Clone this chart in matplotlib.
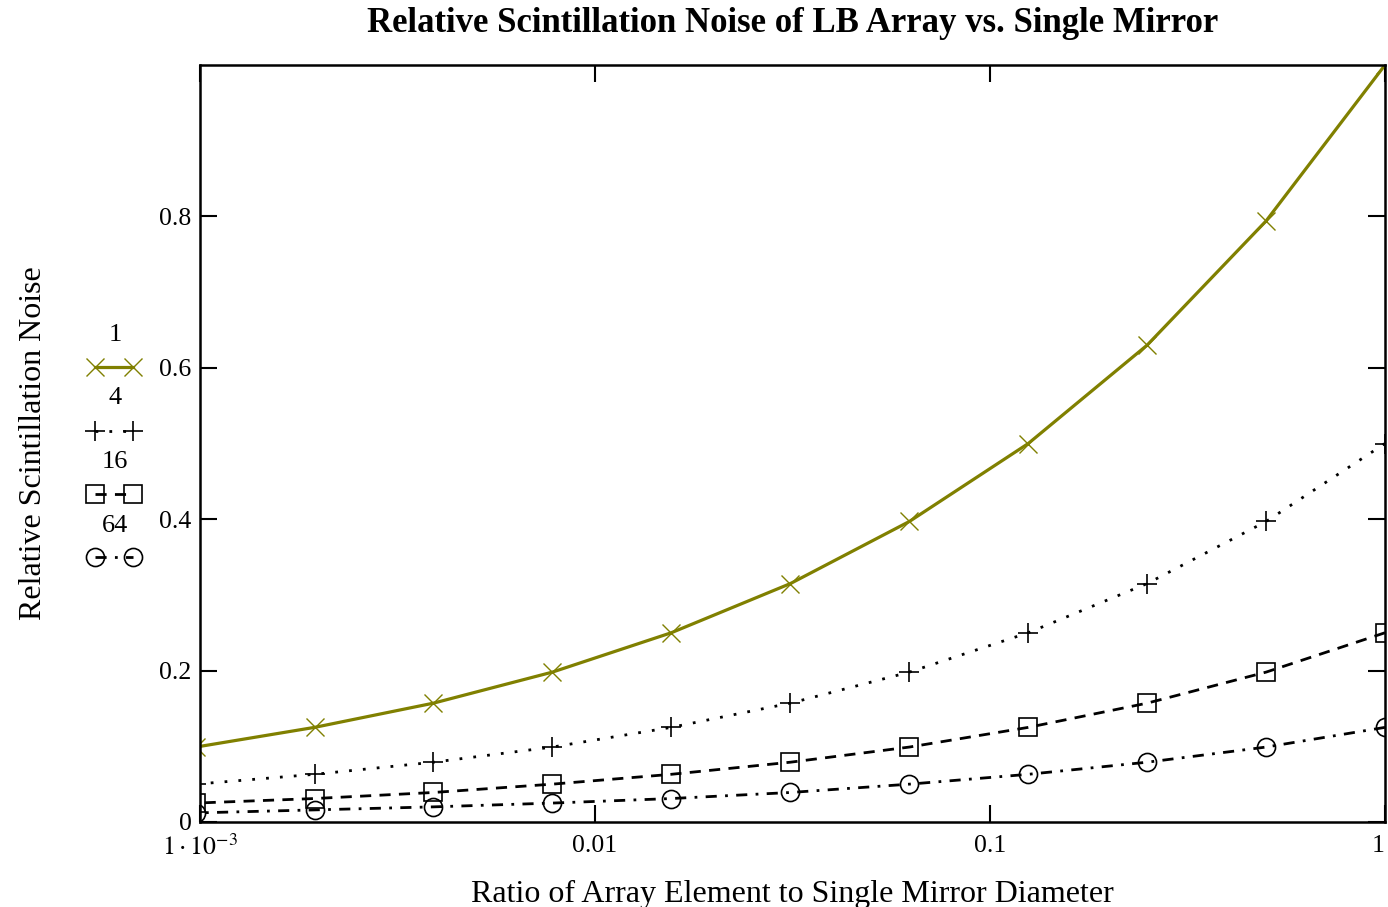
import matplotlib
matplotlib.use("Agg")
import matplotlib.pyplot as plt
from matplotlib.lines import Line2D

plt.rcParams['font.family'] = ['Liberation Serif', 'DejaVu Serif']
plt.rcParams['mathtext.fontset'] = 'stix'

# data (markers at powers of two)
ratio = [1.0, 0.5, 0.25, 0.125, 0.0625, 0.03125, 0.0156, 0.0078, 0.0039, 0.00195, 0.000977]
noise_1 = [1.0, 0.794, 0.630, 0.500, 0.397, 0.315, 0.250, 0.198, 0.157, 0.125, 0.099]
noise_4 = [0.500, 0.397, 0.315, 0.250, 0.198, 0.157, 0.125, 0.099, 0.079, 0.063, 0.050]
noise_16 = [0.250, 0.198, 0.157, 0.125, 0.099, 0.079, 0.063, 0.050, 0.039, 0.031, 0.025]
noise_64 = [0.125, 0.099, 0.079, 0.063, 0.050, 0.039, 0.031, 0.025, 0.020, 0.016, 0.012]
labels = ['1', '4', '16', '64']

xticks = [0.001, 0.01, 0.1, 1]
xticklabels = [r'$1\cdot10^{-3}$', '0.01', '0.1', '1']
yticks = [0, 0.2, 0.4, 0.6, 0.8]
yticklabels = ['0', '0.2', '0.4', '0.6', '0.8']

olive = '#808000'
styles = [
    dict(color=olive, lw=2.3, ls='-', marker='x', ms=13, mew=1.0),
    dict(color='black', lw=2.0, ls=(0, (1, 4)), marker='+', ms=14, mew=1.2),
    dict(color='black', lw=2.0, ls=(0, (4, 3)), marker='s', ms=13, mew=1.2, mfc='none'),
    dict(color='black', lw=2.0, ls=(0, (4, 3, 1, 3)), marker='o', ms=13, mew=1.2, mfc='none'),
]

fig = plt.figure(figsize=(13.88, 9.07), dpi=100)
ax = fig.add_axes([200 / 1388, 1 - 822 / 907, 1185 / 1388, 757 / 907])

series = [noise_1, noise_4, noise_16, noise_64]
for vals, st in zip(series, styles):
    ax.plot(ratio, vals, clip_on=True, **st)

ax.set_xscale('log')
ax.set_xlim(0.001, 1)
ax.set_ylim(0, 1.0)
ax.set_xticks(xticks)
ax.set_xticklabels(xticklabels)
ax.set_yticks(yticks)
ax.set_yticklabels(yticklabels)
ax.minorticks_off()
ax.tick_params(direction='in', length=12, width=1.5, top=True, right=True,
               labelsize=18.5, pad=6)
ax.tick_params(axis='x', pad=9)
# last label sits at the figure edge, keep it inside
ax.get_xticklabels()[-1].set_horizontalalignment('right')
for sp in ax.spines.values():
    sp.set_linewidth(1.8)

ax.set_title('Relative Scintillation Noise of LB Array vs. Single Mirror',
             fontsize=25, fontweight='bold', pad=24)
ax.set_xlabel('Ratio of Array Element to Single Mirror Diameter', fontsize=23, labelpad=14)
ax.set_ylabel('Relative Scintillation Noise', fontsize=23, labelpad=80)

# legend in the Mathcad style: label above each line sample
lab_y = [335, 398, 462, 526]
key_y = [367, 431, 494, 557]
for lab, ly, ky, st in zip(labels, lab_y, key_y, styles):
    fig.text(115 / 1388, 1 - ly / 907, lab, ha='center', va='center', fontsize=19)
    key = Line2D([95 / 1388, 133 / 1388], [1 - ky / 907, 1 - ky / 907],
                 transform=fig.transFigure, **st)
    fig.add_artist(key)

fig.savefig('out.png', dpi=100)
